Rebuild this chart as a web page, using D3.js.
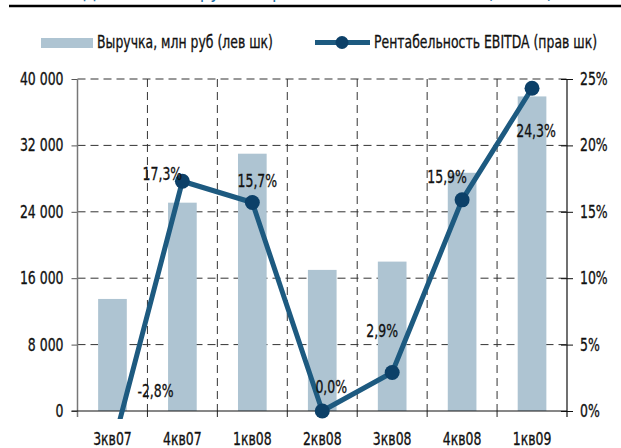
<!DOCTYPE html>
<html>
<head>
<meta charset="utf-8">
<script src="https://cdn.jsdelivr.net/npm/d3@7"></script>
<style>
  html, body { margin: 0; padding: 0; background: #fff; }
  svg { display: block; }
  text { font-family: "DejaVu Sans", sans-serif; font-stretch: condensed; fill: #111; stroke: #111; stroke-width: 0.3px; }
</style>
</head>
<body>
<svg id="chart" width="621" height="448"></svg>
<script>
// ---- data ----
const categories = ["3кв07", "4кв07", "1кв08", "2кв08", "3кв08", "4кв08", "1кв09"];
const revenue = [13500, 25100, 31000, 17000, 18000, 28700, 37900];      // млн руб
const ebitdaMargin = [-2.8, 17.3, 15.7, 0.0, 2.9, 15.9, 24.3];           // %
const leftTicks = [0, 8000, 16000, 24000, 32000, 40000];
const rightTicks = [0, 5, 10, 15, 20, 25];
const seriesNames = ["Выручка, млн руб (лев шк)", "Рентабельность EBITDA (прав шк)"];
const titleText = "Динамика выручки и рентабельности EBITDA (МСФО)";

// ---- layout / style ----
const svg = d3.select("#chart");
const L = 77.5, R = 567, T = 79, B = 411;
const barColor = "#aec4d2", lineColor = "#1d5a80", dotColor = "#0c4068";
const fs = 17;

const x = d3.scaleBand().domain(categories).range([L, R]).paddingInner(0).paddingOuter(0);
const yL = d3.scaleLinear().domain([0, 40000]).range([B, T]);
const yR = d3.scaleLinear().domain([0, 25]).range([B, T]);

svg.append("defs").append("clipPath").attr("id", "plotClip")
  .append("rect").attr("x", 0).attr("y", 0).attr("width", 621).attr("height", B + 8);

// clipped title (only descenders visible, as in the cropped original)
const title = svg.append("text").attr("x", 83).attr("y", -2)
  .style("font-size", "22px").style("fill", "#1f6fa5").style("stroke", "none").text(titleText);
title.attr("textLength", 470).attr("lengthAdjust", "spacingAndGlyphs");
svg.append("line").attr("x1", 9).attr("x2", 621).attr("y1", 6).attr("y2", 6)
  .attr("stroke", "#000").attr("stroke-width", 2.5);

// horizontal dashed grid
svg.append("g").selectAll("line").data(leftTicks.filter(d => d > 0)).join("line")
  .attr("x1", L).attr("x2", R).attr("y1", d => yL(d)).attr("y2", d => yL(d))
  .attr("stroke", "#333").attr("stroke-width", 1).attr("stroke-dasharray", "8,5");

// vertical dashed grid at band boundaries
const bounds = categories.slice(1).map(c => x(c));
svg.append("g").selectAll("line").data(bounds).join("line")
  .attr("x1", d => d).attr("x2", d => d).attr("y1", T).attr("y2", B)
  .attr("stroke", "#333").attr("stroke-width", 1).attr("stroke-dasharray", "8,5");
svg.append("g").selectAll("line").data(bounds).join("line")
  .attr("x1", d => d).attr("x2", d => d).attr("y1", B).attr("y2", B + 6)
  .attr("stroke", "#222").attr("stroke-width", 1);

// bars
const bw = x.bandwidth() * 0.41;
svg.append("g").selectAll("rect").data(revenue).join("rect")
  .attr("x", (d, i) => x(categories[i]) + (x.bandwidth() - bw) / 2)
  .attr("width", bw)
  .attr("y", d => yL(d)).attr("height", d => B - yL(d))
  .attr("fill", barColor);

// left axis
const gL = svg.append("g").attr("transform", `translate(${L},0)`)
  .call(d3.axisLeft(yL).tickValues(leftTicks).tickSize(6).tickPadding(8)
    .tickFormat(d => d3.format(",")(d).replace(/,/g, " ")));
gL.select(".domain").remove();
gL.selectAll(".tick line").attr("stroke", "#555");
gL.selectAll("text").style("font-size", fs + "px").style("fill", "#111").attr("font-family", null);
svg.append("line").attr("x1", L).attr("x2", L).attr("y1", T).attr("y2", B + 6)
  .attr("stroke", "#777").attr("stroke-width", 1.5);

// right axis
const gR = svg.append("g").attr("transform", `translate(${R},0)`)
  .call(d3.axisRight(yR).tickValues(rightTicks).tickSize(6).tickPadding(7)
    .tickFormat(d => d + "%"));
gR.select(".domain").remove();
gR.selectAll(".tick line").attr("stroke", "#111").attr("x1", -6);
gR.selectAll("text").style("font-size", fs + "px").style("fill", "#111").attr("font-family", null);
svg.append("line").attr("x1", R).attr("x2", R).attr("y1", T).attr("y2", B + 6)
  .attr("stroke", "#111").attr("stroke-width", 1.2);

// bottom axis
const gB = svg.append("g").attr("transform", `translate(0,${B})`)
  .call(d3.axisBottom(x).tickSize(0).tickPadding(22));
gB.select(".domain").remove();
gB.selectAll("text").style("font-size", fs + "px").style("fill", "#111").attr("font-family", null);
svg.append("line").attr("x1", L - 6).attr("x2", R).attr("y1", B).attr("y2", B)
  .attr("stroke", "#111").attr("stroke-width", 1.2);

// line series (clipped just below the category axis, as in the original)
const pts = ebitdaMargin.map((v, i) => [x(categories[i]) + x.bandwidth() / 2, yR(v)]);
const gLine = svg.append("g").attr("clip-path", "url(#plotClip)");
gLine.append("path").attr("d", d3.line()(pts))
  .attr("fill", "none").attr("stroke", lineColor).attr("stroke-width", 5)
  .attr("stroke-linejoin", "round");
gLine.selectAll("circle").data(pts).join("circle")
  .attr("cx", d => d[0]).attr("cy", d => d[1]).attr("r", 7.5).attr("fill", dotColor);

// data labels (placement offsets relative to each point)
const labelOffsets = [[43, -51], [-20, -1], [5, -16], [9, -18], [-10, -35], [-15, -17], [4, 49]];
svg.append("g").selectAll("text").data(ebitdaMargin).join("text")
  .attr("x", (d, i) => pts[i][0] + labelOffsets[i][0])
  .attr("y", (d, i) => pts[i][1] + labelOffsets[i][1])
  .attr("text-anchor", "middle").style("font-size", fs + "px")
  .text(d => d3.format(".1f")(d).replace(".", ",").replace("−", "-") + "%");

// legend
svg.append("rect").attr("x", 41).attr("y", 38).attr("width", 52).attr("height", 10).attr("fill", barColor);
svg.append("line").attr("x1", 315).attr("x2", 370).attr("y1", 42.5).attr("y2", 42.5)
  .attr("stroke", lineColor).attr("stroke-width", 5);
svg.append("circle").attr("cx", 342).attr("cy", 42.5).attr("r", 6.5).attr("fill", dotColor);
const legG1 = svg.append("g").attr("class", "leg");
const leg1 = legG1.append("text").attr("x", 0).attr("y", 0).style("font-size", fs + "px").text(seriesNames[0]);
const legG2 = svg.append("g").attr("class", "leg");
legG2.append("text").attr("x", 0).attr("y", 0).style("font-size", fs + "px").text(seriesNames[1]);

// condense texts horizontally to match the narrow typeface of the original
const factor = 176 / leg1.node().getComputedTextLength();
legG1.attr("transform", `translate(97,48) scale(${factor},1)`);
legG2.attr("transform", `translate(374,48) scale(${factor},1)`);
svg.selectAll("text").filter(function () {
  return this !== title.node() && !this.parentNode.classList.contains("leg");
}).each(function () {
  const w = this.getComputedTextLength();
  d3.select(this).attr("textLength", w * factor).attr("lengthAdjust", "spacingAndGlyphs");
});
</script>
</body>
</html>
